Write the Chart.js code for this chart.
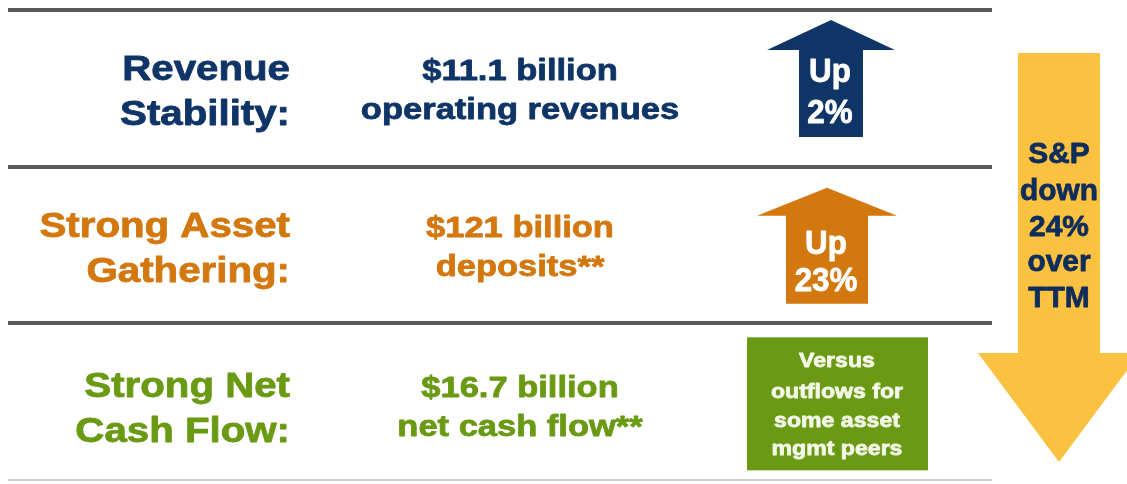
<!DOCTYPE html>
<html>
<head>
<meta charset="utf-8">
<script src="https://cdn.jsdelivr.net/npm/chart.js@4/dist/chart.umd.min.js"></script>
<style>
  html, body { margin: 0; padding: 0; background: #fff; }
  #wrap { width: 1127px; height: 484px; }
</style>
</head>
<body>
<div id="wrap"><canvas id="kpi"></canvas></div>
<script>
// slide data
var rowTitles = [['Revenue', 'Stability:'], ['Strong Asset', 'Gathering:'], ['Strong Net', 'Cash Flow:']];
var rowAmounts = ['$11.1 billion', '$121 billion', '$16.7 billion'];
var rowMeasures = ['operating revenues', 'deposits**', 'net cash flow**'];
var changePct = [2, 23, null];
var peerNote = ['Versus', 'outflows for', 'some asset', 'mgmt peers'];
var benchName = 'S&P';
var benchPct = -24;
var benchPeriod = 'TTM';

// look
var rowColors = ['#0f3567', '#d3770f', '#6a9a13'];
var FONT = '"Liberation Sans", Arial, sans-serif';
var layout = {
    labelRight: 290, amountCenter: 520, benchCenter: 1059,
    labelLines: [70, 115], amountLines: [70, 109],
    rowNudge: [0, 0, 4],
    badges: [
        { cx: 831, tip: 10, base: 40, bottom: 127, head: 64, shaft: 32, text: [72, 113] },
        { cx: 827, tip: 21, base: 49, bottom: 137, head: 70, shaft: 41, text: [87, 124] },
        { cx: 837, left: 747, right: 928, top: 10, bottom: 143, text: [40, 71, 100, 128] }
    ],
    bench: { top: 43, base: 343, tip: 452, head: 81, shaft: 41, text: [153, 190, 226, 261, 297] }
};

function drawText(ctx, str, x, y, size, color, align, sx) {
    ctx.save();
    ctx.font = 'bold ' + size + 'px ' + FONT;
    ctx.fillStyle = color;
    ctx.strokeStyle = color;
    ctx.lineWidth = 0.8;
    ctx.lineJoin = 'round';
    ctx.textAlign = align;
    ctx.textBaseline = 'alphabetic';
    ctx.translate(x, y);
    ctx.scale(sx, 1);
    ctx.fillText(str, 0, 0);
    ctx.strokeText(str, 0, 0);
    ctx.restore();
}

function upArrow(ctx, cx, tip, base, bottom, head, shaft, color) {
    ctx.beginPath();
    ctx.moveTo(cx, tip);
    ctx.lineTo(cx + head, base);
    ctx.lineTo(cx + shaft, base);
    ctx.lineTo(cx + shaft, bottom);
    ctx.lineTo(cx - shaft, bottom);
    ctx.lineTo(cx - shaft, base);
    ctx.lineTo(cx - head, base);
    ctx.closePath();
    ctx.fillStyle = color;
    ctx.fill();
}

var slidePlugin = {
    id: 'slide',
    afterDraw: function(chart) {
        var ctx = chart.ctx;
        var y = chart.scales.y;
        var area = chart.chartArea;
        var half = (area.bottom - area.top) / rowTitles.length / 2;

        rowTitles.forEach(function(lines, i) {
            var top = y.getPixelForValue(i) - half + layout.rowNudge[i];
            var col = rowColors[i];
            lines.forEach(function(t, k) {
                drawText(ctx, t, layout.labelRight, top + layout.labelLines[k], 35, col, 'right', 1.15);
            });
            drawText(ctx, rowAmounts[i], layout.amountCenter, top + layout.amountLines[0], 30, col, 'center', 1.15);
            drawText(ctx, rowMeasures[i], layout.amountCenter, top + layout.amountLines[1], 30, col, 'center', 1.15);

            var b = layout.badges[i];
            if (changePct[i] !== null) {
                upArrow(ctx, b.cx, top + b.tip, top + b.base, top + b.bottom, b.head, b.shaft, col);
                var words = [changePct[i] >= 0 ? 'Up' : 'Down', Math.abs(changePct[i]) + '%'];
                words.forEach(function(w, k) {
                    drawText(ctx, w, b.cx - 1, top + b.text[k], 33, '#ffffff', 'center', 0.95);
                });
            } else {
                ctx.fillStyle = col;
                ctx.fillRect(b.left, top + b.top, b.right - b.left, b.bottom - b.top);
                peerNote.forEach(function(w, k) {
                    drawText(ctx, w, b.cx, top + b.text[k], 21, '#f4f8e8', 'center', 1.1);
                });
            }
        });

        // benchmark arrow pointing down
        var s = layout.bench, bx = layout.benchCenter, t0 = area.top;
        ctx.beginPath();
        ctx.moveTo(bx - s.shaft, t0 + s.top);
        ctx.lineTo(bx + s.shaft, t0 + s.top);
        ctx.lineTo(bx + s.shaft, t0 + s.base);
        ctx.lineTo(bx + s.head, t0 + s.base);
        ctx.lineTo(bx, t0 + s.tip);
        ctx.lineTo(bx - s.head, t0 + s.base);
        ctx.lineTo(bx - s.shaft, t0 + s.base);
        ctx.closePath();
        ctx.fillStyle = '#fbc140';
        ctx.fill();
        var benchWords = [benchName, benchPct < 0 ? 'down' : 'up', Math.abs(benchPct) + '%', 'over', benchPeriod];
        benchWords.forEach(function(w, k) {
            drawText(ctx, w, bx, t0 + s.text[k], 29, '#0e2d5c', 'center', 1.03);
        });
    }
};

new Chart(document.getElementById('kpi'), {
    type: 'bar',
    data: {
        labels: rowTitles.map(function(l) { return l.join(' '); }),
        datasets: [{ data: [], backgroundColor: 'rgba(0,0,0,0)' }]
    },
    options: {
        indexAxis: 'y',
        responsive: true,
        maintainAspectRatio: false,
        animation: false,
        layout: { padding: { left: 8, right: 135, top: 10, bottom: 4 } },
        plugins: { legend: { display: false }, tooltip: { enabled: false } },
        scales: {
            x: { type: 'linear', display: false, min: 0, max: 1 },
            y: {
                type: 'category',
                offset: true,
                ticks: { display: false },
                border: { display: false },
                grid: {
                    offset: true,
                    drawTicks: false,
                    color: function(c) { return c.type === 'scale' ? '#d2d2d2' : '#595959'; },
                    lineWidth: function(c) { return c.type === 'scale' ? 2 : 4; }
                }
            }
        }
    },
    plugins: [slidePlugin]
});
</script>
</body>
</html>
